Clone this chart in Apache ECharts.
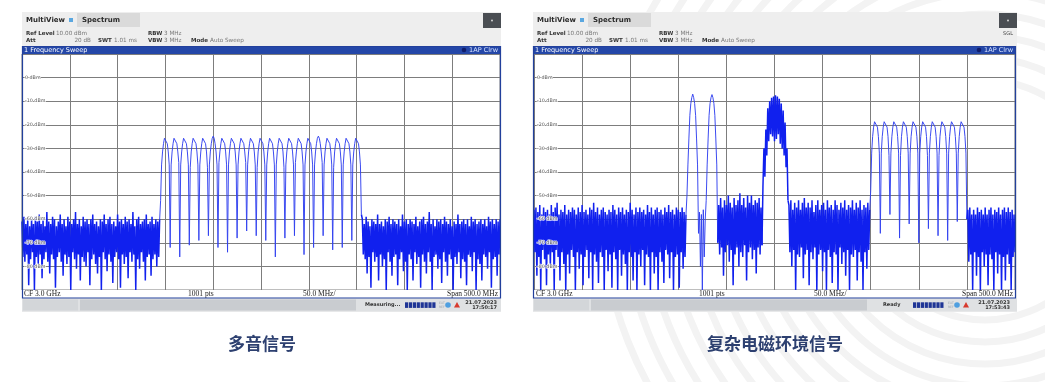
<!DOCTYPE html>
<html>
<head>
<meta charset="utf-8">
<title>多音信号 / 复杂电磁环境信号</title>
<script src="https://cdn.jsdelivr.net/npm/echarts@6/dist/echarts.min.js"></script>
<style>
html,body{margin:0;padding:0;background:#ffffff;overflow:hidden;}
#chart{width:1045px;height:382px;}
</style>
</head>
<body>
<div id="chart"></div>
<script>
// ================= DATA =================
const captions = ['多音信号', '复杂电磁环境信号'];
const dbmTickLabels = [0, -10, -20, -30, -40, -50, -60, -70, -80];
const refLevelDbm = 10, bottomDbm = -90, dbPerDiv = 10;
const spanMHz = 500, divMHz = 50, traceStepMHz = 1;
const footerTexts = ['CF 3.0 GHz', '1001 pts', '50.0 MHz/', 'Span 500.0 MHz'];
const timeStamps = [['21.07.2023', '17:50:17'], ['21.07.2023', '17:53:43']];

// ---- left screenshot: multi-tone (0..500 MHz of span, 1 MHz per value) ----
// 0..144 MHz noise floor
const leftNoiseLow = [
 -61,-76,-59,-78,-62,-75,-60,-88,-63,-77,
 -60,-74,-62,-90,-59,-76,-61,-79,-58,-75,
 -62,-85,-60,-77,-63,-74,-57,-78,-61,-83,
 -62,-75,-59,-77,-60,-89,-63,-76,-61,-74,
 -58,-78,-62,-84,-60,-75,-63,-79,-59,-76,
 -61,-90,-62,-74,-60,-77,-57,-81,-62,-75,
 -60,-86,-63,-76,-59,-78,-61,-80,-60,-74,
 -62,-88,-60,-77,-58,-75,-62,-79,-61,-83,
 -63,-76,-60,-90,-61,-74,-58,-77,-62,-82,
 -60,-75,-59,-78,-62,-87,-61,-76,-63,-74,
 -58,-77,-61,-89,-60,-75,-62,-79,-59,-76,
 -61,-85,-60,-74,-62,-78,-57,-75,-63,-90,
 -60,-77,-59,-81,-62,-74,-61,-78,-60,-86,
 -58,-76,-62,-75,-61,-84,-59,-77,-62,-75,
 -60,-80,-61,-76,-60
];
// 145..355 MHz: 21 tones at 150..350 MHz, nulls between them
const leftComb = [
 -52, -37,-31.5,-28,-25.7,-25,  -25.7,-28,-31.5,-37,
 -72, -37,-31.5,-28,-25.7,-25.2,-25.7,-28,-31.5,-36,
 -76, -37,-31.5,-28,-25.7,-24.9,-25.7,-28,-31.5,-37,
 -71, -38,-31.5,-28,-25.7,-25.1,-25.7,-28,-31.5,-37,
 -69, -37,-31.5,-28,-25.7,-25,  -25.7,-28,-31.5,-38,
 -67, -37,-31.5,-28,-25.7,-24.8,-25.7,-28,-31.5,-37,
 -72, -36,-31.5,-28,-25.7,-25.1,-25.7,-28,-31.5,-37,
 -74, -37,-31.5,-28,-25.7,-25,  -25.7,-28,-31.5,-37,
 -68, -37,-31.5,-28,-25.7,-25.2,-25.7,-28,-31.5,-36,
 -65, -37,-31.5,-28,-25.7,-24.9,-25.7,-28,-31.5,-37,
 -67, -38,-31.5,-28,-25.7,-25,  -25.7,-28,-31.5,-37,
 -69, -37,-31.5,-28,-25.7,-25.1,-25.7,-28,-31.5,-37,
 -76, -37,-31.5,-28,-25.7,-24.9,-25.7,-28,-31.5,-38,
 -68, -37,-31.5,-28,-25.7,-25,  -25.7,-28,-31.5,-37,
 -67, -36,-31.5,-28,-25.7,-25.2,-25.7,-28,-31.5,-37,
 -75, -37,-31.5,-28,-25.7,-25,  -25.7,-28,-31.5,-37,
 -72, -37,-31.5,-28,-25.7,-24.8,-25.7,-28,-31.5,-36,
 -67, -37,-31.5,-28,-25.7,-25.1,-25.7,-28,-31.5,-37,
 -73, -38,-31.5,-28,-25.7,-25,  -25.7,-28,-31.5,-37,
 -72, -37,-31.5,-28,-25.7,-24.9,-25.7,-28,-31.5,-37,
 -69, -37,-31.5,-28,-25.7,-25.1,-25.7,-28,-31.5,-37,
 -58
];
// 356..500 MHz noise floor
const leftNoiseHigh = [
 -60,-75,-62,-77,-59,-83,-61,-76,-63,-89,
 -60,-74,-61,-78,-62,-76,-58,-86,-62,-75,
 -61,-80,-63,-77,-60,-90,-61,-74,-59,-78,
 -62,-84,-60,-76,-61,-75,-62,-88,-60,-77,
 -63,-74,-58,-82,-61,-78,-60,-90,-62,-75,
 -60,-77,-61,-86,-62,-74,-59,-79,-63,-76,
 -61,-89,-60,-75,-59,-78,-62,-83,-61,-74,
 -57,-78,-62,-90,-60,-76,-63,-75,-60,-81,
 -61,-77,-60,-87,-62,-74,-59,-78,-61,-84,
 -62,-75,-60,-77,-63,-90,-61,-76,-62,-79,
 -58,-74,-62,-85,-61,-77,-60,-78,-62,-88,
 -60,-75,-63,-76,-59,-82,-61,-74,-60,-90,
 -62,-77,-61,-79,-60,-86,-62,-75,-60,-76,
 -63,-81,-59,-74,-61,-89,-60,-77,-62,-76,
 -60,-84,-61,-75,-60
];

// ---- right screenshot: complex electromagnetic environment ----
// 0..158 MHz noise
const rightNoiseA = [
 -56,-74,-55,-84,-57,-76,-54,-90,-58,-73,
 -55,-77,-57,-88,-56,-75,-58,-80,-54,-74,
 -57,-90,-55,-73,-53,-76,-58,-86,-56,-74,
 -57,-79,-54,-90,-58,-75,-56,-83,-57,-73,
 -55,-76,-56,-90,-58,-74,-55,-81,-57,-75,
 -54,-88,-57,-76,-56,-73,-58,-85,-55,-74,
 -56,-90,-53,-75,-57,-78,-55,-87,-58,-74,
 -56,-76,-55,-90,-57,-73,-58,-82,-56,-75,
 -57,-89,-54,-74,-56,-77,-58,-90,-55,-73,
 -57,-84,-55,-75,-58,-79,-56,-90,-57,-74,
 -53,-76,-56,-86,-58,-74,-55,-90,-57,-75,
 -55,-80,-57,-73,-56,-88,-58,-75,-54,-76,
 -57,-90,-55,-74,-58,-83,-56,-76,-55,-90,
 -57,-74,-56,-78,-58,-87,-55,-73,-57,-75,
 -54,-85,-57,-74,-56,-90,-58,-76,-55,-75,
 -56,-89,-57,-74,-55,-81,-57,-76,-58
];
// 159..191 MHz: two tones at 165 and 185 MHz
const rightTwoTone = [
 -50,-37,-26,-16,-11,-8.5,-7,-8.5,-11,-16,-26,-37,
 -66,-57,-80,-58,-90,-56,-76,-60,
 -52,-37,-26,-16,-11,-8.5,-7.2,-8.5,-11,-16,-26,-37,
 -70
];
// 192..237 MHz noise
const rightNoiseC = [
 -54,-75,-51,-72,-55,-84,-52,-74,-54,-71,
 -50,-78,-53,-73,-55,-88,-51,-75,-54,-72,
 -52,-80,-49,-74,-54,-76,-51,-71,-55,-86,
 -50,-74,-53,-72,-50,-77,-54,-73,-52,-83,
 -53,-72,-51,-75,-55,-71
];
// 238..264 MHz: wideband signal around 250 MHz
const rightWideband = [
 -46,-30,-42,-22,-33,-13,-27,-10,-24,-8.5,
 -25,-8,-27,-7.5,-26,-8,-24,-9,-28,-11,
 -30,-14,-33,-19,-38,-30,-52
];
// 265..349 MHz noise
const rightNoiseE = [
 -54,-74,-52,-80,-56,-73,-53,-90,-55,-75,
 -52,-76,-56,-72,-53,-85,-51,-75,-55,-73,
 -53,-88,-55,-74,-52,-77,-57,-72,-54,-90,
 -52,-75,-56,-73,-54,-82,-53,-74,-56,-90,
 -52,-73,-55,-76,-54,-87,-56,-74,-52,-75,
 -54,-90,-56,-72,-53,-79,-55,-74,-52,-84,
 -56,-73,-54,-90,-55,-75,-52,-76,-56,-73,
 -53,-86,-55,-74,-52,-78,-56,-90,-54,-74,
 -55,-81,-53,-73,-56
];
// 350..450 MHz: 10 tones at 355..445 MHz
const rightComb = [
 -48, -32,-25,-21,-18.7,-18,  -18.7,-21,-25,-32,
 -66, -32,-25,-21,-18.7,-18.2,-18.7,-21,-25,-33,
 -58, -32,-25,-21,-18.7,-17.9,-18.7,-21,-25,-32,
 -68, -33,-25,-21,-18.7,-18.1,-18.7,-21,-25,-32,
 -62, -32,-25,-21,-18.7,-18,  -18.7,-21,-25,-32,
 -70, -32,-25,-21,-18.7,-18.2,-18.7,-21,-25,-33,
 -64, -32,-25,-21,-18.7,-17.9,-18.7,-21,-25,-32,
 -67, -33,-25,-21,-18.7,-18,  -18.7,-21,-25,-32,
 -69, -32,-25,-21,-18.7,-18.1,-18.7,-21,-25,-32,
 -61, -32,-25,-21,-18.7,-18,  -18.7,-21,-25,-32,
 -60
];
// 451..500 MHz noise
const rightNoiseG = [
 -56,-78,-55,-75,-58,-90,-56,-74,-58,-84,
 -55,-76,-57,-90,-56,-74,-58,-80,-55,-75,
 -58,-88,-56,-75,-55,-77,-58,-90,-56,-74,
 -57,-83,-55,-75,-58,-90,-56,-76,-55,-86,
 -57,-75,-55,-79,-57,-90,-56,-76,-58,-74
];

// trace segments in sweep order (dense = noise-like, drawn heavier)
const leftSegments = [
  {values: leftNoiseLow, dense: true},
  {values: leftComb, dense: false},
  {values: leftNoiseHigh, dense: true}
];
const rightSegments = [
  {values: rightNoiseA, dense: true},
  {values: rightTwoTone, dense: false},
  {values: rightNoiseC, dense: true},
  {values: rightWideband, dense: true},
  {values: rightNoiseE, dense: true},
  {values: rightComb, dense: false},
  {values: rightNoiseG, dense: true}
];

// ================= BUILD =================
function traceSeries(gi, segs) {
  const out = [];
  let start = 0, prev = null;
  segs.forEach(s => {
    const pts = s.values.map((v, i) => [(start + i) * traceStepMHz, v]);
    if (prev) pts.unshift(prev);
    prev = pts[pts.length - 1];
    start += s.values.length;
    out.push({type: 'line', xAxisIndex: gi, yAxisIndex: gi * 2, data: pts,
      showSymbol: false, symbol: 'none', silent: true, animation: false, clip: true, z: 3,
      lineStyle: {color: s.dense ? '#1020ee' : '#3141ef', width: s.dense ? 1.5 : 0.95, join: 'bevel'}});
  });
  return out;
}

const FONT = '"DejaVu Sans", sans-serif';
const els = [];
function addText(t, x, y, font, fill, align, z) {
  els.push({type: 'text', x: x, y: y, z: z || 6, silent: true,
    style: {text: t, font: font, fill: fill, align: align || 'left', textAlign: align || 'left',
            verticalAlign: 'middle', textVerticalAlign: 'middle'}});
}
function addRect(x, y, w, h, fill, z) {
  els.push({type: 'rect', z: z || 4, silent: true, shape: {x: x, y: y, width: w, height: h}, style: {fill: fill}});
}
function addFrame(x, y, w, h, stroke, lw, z) {
  els.push({type: 'rect', z: z || 10, silent: true, shape: {x: x, y: y, width: w, height: h},
    style: {fill: 'none', stroke: stroke, lineWidth: lw}});
}
function addCircle(cx, cy, r, fill, z) {
  els.push({type: 'circle', z: z || 6, silent: true, shape: {cx: cx, cy: cy, r: r}, style: {fill: fill}});
}

// faint background rings
[120, 142, 164, 186, 208, 230, 252, 274, 296, 318, 340, 362, 384].forEach(r => {
  els.push({type: 'circle', z: -20, silent: true, shape: {cx: 985, cy: 200, r: r},
    style: {fill: 'none', stroke: '#f3f3f3', lineWidth: 7}});
});

const panels = [
  {x0: 22, x1: 501, plotL: 22, plotR: 500, status: 'Measuring...', statusX: 365, barX: 405, iconX: 439, dateX: 497, ts: timeStamps[0], sgl: false},
  {x0: 533, x1: 1017, plotL: 534, plotR: 1015, status: 'Ready', statusX: 883, barX: 913, iconX: 948, dateX: 1010, ts: timeStamps[1], sgl: true}
];

panels.forEach(p => {
  const x0 = p.x0, x1 = p.x1;
  addRect(x0, 12, x1 - x0, 300, '#eeeeee', -5);
  // title row
  addText('MultiView', x0 + 4, 20, 'bold 7px ' + FONT, '#2a2a2a');
  addRect(x0 + 47, 18, 4, 4, '#5aa7e0');
  addRect(x0 + 55, 13, 63, 14, '#dadada');
  addText('Spectrum', x0 + 60, 20, 'bold 7px ' + FONT, '#2a2a2a');
  // settings rows
  const B = 'bold 5.5px ' + FONT, R = '5.7px ' + FONT, cB = '#333333', cR = '#777777';
  addText('Ref Level', x0 + 4, 34, B, cB);
  addText('10.00 dBm', x0 + 34, 34, R, cR);
  addText('RBW', x0 + 126, 34, B, cB);
  addText('3 MHz', x0 + 142, 34, R, cR);
  addText('Att', x0 + 4, 41, B, cB);
  addText('20 dB', x0 + 69, 41, R, cR, 'right');
  addText('SWT', x0 + 76, 41, B, cB);
  addText('1.01 ms', x0 + 92, 41, R, cR);
  addText('VBW', x0 + 126, 41, B, cB);
  addText('3 MHz', x0 + 142, 41, R, cR);
  addText('Mode', x0 + 169, 41, B, cB);
  addText('Auto Sweep', x0 + 188, 41, R, cR);
  // dark button
  addRect(x1 - 18, 13, 18, 15, '#4a4e53');
  addCircle(x1 - 9, 20.5, 0.9, '#e0e0e0', 7);
  if (p.sgl) addText('SGL', x1 - 9, 34, '5px ' + FONT, '#444444', 'center');
  // blue title bar
  addRect(x0, 46, p.plotR - x0, 8, '#2447a8');
  addText('1 Frequency Sweep', x0 + 2, 50, '6.5px ' + FONT, '#ffffff');
  addCircle(p.plotR - 36, 50, 2.3, '#101d6b', 7);
  addText('1AP Clrw', p.plotR - 2, 50, '6.5px ' + FONT, '#d6e2ff', 'right');
  // footer row
  addRect(x0, 290, p.plotR - x0, 8, '#ffffff');
  const F = '7.5px "Liberation Serif", serif', cF = '#222222';
  addText(footerTexts[0], p.plotL + 2, 294.3, F, cF);
  addText(footerTexts[1], x0 + 166, 294.3, F, cF);
  addText(footerTexts[2], x0 + 281, 294.3, F, cF);
  addText(footerTexts[3], p.plotR - 2, 294.3, F, cF, 'right');
  // status bar
  addRect(x0, 298.5, x1 - x0, 13, '#dfe1e3');
  addRect(x0 + 1, 299.5, 55, 11, '#d3d6d9');
  addRect(x0 + 58, 299.5, 276, 11, '#c9ccd0');
  addText(p.status, p.statusX, 305, 'bold 5px ' + FONT, '#333333');
  for (let k = 0; k < 8; k++) addRect(p.barX + k * 3.9, 302.3, 3.2, 5.6, '#1f3596');
  addText('EXT', p.iconX, 303, '3px ' + FONT, '#9aa3ad');
  addText('REF', p.iconX, 307, '3px ' + FONT, '#9aa3ad');
  addCircle(p.iconX + 9, 305, 2.8, '#4f9fe0', 7);
  els.push({type: 'polygon', z: 7, silent: true,
    shape: {points: [[p.iconX + 18, 302], [p.iconX + 21, 307.5], [p.iconX + 15, 307.5]]},
    style: {fill: '#d83a2e'}});
  addText(p.ts[0], p.dateX, 302.3, 'bold 5px ' + FONT, '#333333', 'right');
  addText(p.ts[1], p.dateX, 307.6, 'bold 5px ' + FONT, '#333333', 'right');
  // window frame
  addFrame(x0 + 0.5, 46.5, p.plotR - x0, 251.5, '#22409c', 1.2, 10);
});

// captions
addText(captions[0], 262, 344, 'bold 17px "Noto Sans CJK SC", sans-serif', '#2d4070', 'center');
addText(captions[1], 775, 344, 'bold 17px "Noto Sans CJK SC", sans-serif', '#2d4070', 'center');

function yAxesFor(gi) {
  const base = {type: 'value', gridIndex: gi, position: 'left', min: bottomDbm, max: refLevelDbm, interval: dbPerDiv,
    axisLine: {show: false}, axisTick: {show: false}};
  return [
    Object.assign({}, base, {axisLabel: {show: false},
      splitLine: {show: true, lineStyle: {color: '#7d7d7d', width: 1}}}),
    Object.assign({}, base, {z: 10, splitLine: {show: false},
      axisLabel: {inside: true, margin: 3, fontSize: 4.8, fontFamily: 'DejaVu Sans', color: '#5a5a5a',
        textBorderColor: 'rgba(255,255,255,0.85)', textBorderWidth: 1.5,
        formatter: v => dbmTickLabels.indexOf(Math.round(v)) >= 0 ? Math.round(v) + ' dBm' : ''}})
  ];
}
function xAxisFor(gi) {
  return {type: 'value', gridIndex: gi, min: 0, max: spanMHz, interval: divMHz,
    axisLine: {show: false}, axisTick: {show: false}, axisLabel: {show: false},
    splitLine: {show: true, lineStyle: {color: '#7d7d7d', width: 1}}};
}

const chart = echarts.init(document.getElementById('chart'), null, {renderer: 'canvas', width: 1045, height: 382});
chart.setOption({
  animation: false,
  backgroundColor: '#ffffff',
  grid: panels.map(p => ({left: p.plotL, top: 54, width: p.plotR - p.plotL, height: 236,
    show: true, backgroundColor: '#ffffff', borderColor: '#7d7d7d', borderWidth: 1,
    containLabel: false, outerBoundsMode: 'none'})),
  xAxis: [xAxisFor(0), xAxisFor(1)],
  yAxis: [].concat(yAxesFor(0), yAxesFor(1)),
  series: [].concat(traceSeries(0, leftSegments), traceSeries(1, rightSegments)),
  graphic: {elements: els}
});
</script>
</body>
</html>
